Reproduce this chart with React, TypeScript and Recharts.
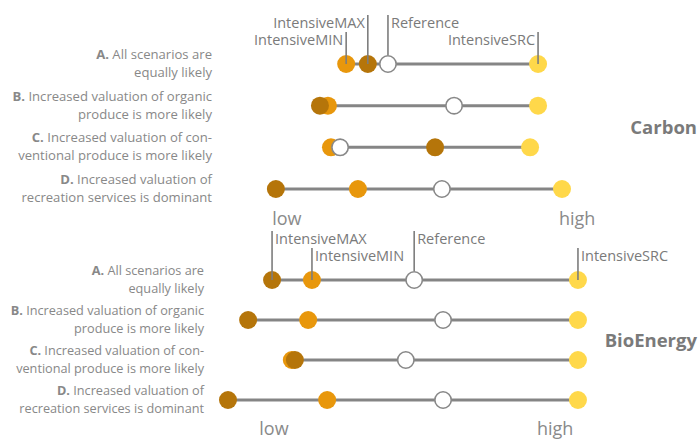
import React from 'react';
import { ScatterChart, Scatter, XAxis, YAxis, ReferenceLine } from 'recharts';

// Row categories (scenarios)
const scenarioBold = ['A.', 'B.', 'C.', 'D.'];
const scenarioLine1 = [' All scenarios are', ' Increased valuation of organic', ' Increased valuation of con-', ' Increased valuation of'];
const scenarioLine2 = ['equally likely', 'produce is more likely', 'ventional produce is more likely', 'recreation services is dominant'];
const rows = [0, 1, 2, 3];

// Carbon (low = 0 ... high = 100, relative position)
const carbonMin = [33.2, 28.4, 29.2, 36.3];
const carbonMax = [38.9, 26.3, 56.6, 14.7];
const carbonRef = [44.2, 61.6, 31.6, 58.4];
const carbonSrc = [83.7, 83.7, 81.6, 90.0];

// BioEnergy
const bioMin = [24.2, 23.2, 18.9, 28.2];
const bioMax = [13.7, 7.4, 19.7, 2.1];
const bioRef = [51.1, 58.7, 48.9, 58.7];
const bioSrc = [94.2, 94.2, 94.2, 94.2];

// Axis end labels
const carbonTicks = [17.6, 94.0];
const bioTicks = [14.2, 88.2];
const tickNames = ['low', 'high'];

const seriesNames = ['IntensiveMAX', 'IntensiveMIN', 'Reference', 'IntensiveSRC'];

const COLORS = {
  min: '#E8970C',
  max: '#B5750A',
  src: '#FFD84A',
  ref: '#888888',
  line: '#858585',
  text: '#888888',
};
const FONT = '"Open Sans", "Noto Sans", sans-serif';
const R = 9;

const toPts = (vals: number[]) => vals.map((x, i) => ({ x, y: rows[i] }));

const dot = (fill: string) => (p: any) => <circle cx={p.cx} cy={p.cy} r={R} fill={fill} />;
const refDot = (p: any) => (
  <circle cx={p.cx} cy={p.cy} r={R - 0.8} fill="#ffffff" stroke={COLORS.ref} strokeWidth={1.6} />
);

type AnnStyle = { level: number; side: 'left' | 'right' };

const annotationShape = (styles: Record<string, AnnStyle>) => (p: any) => {
  const name = p.payload.name as string;
  const st = styles[name];
  const top = p.cy - (st.level === 1 ? 49 : 32);
  const bottom = name === 'Reference' ? p.cy - R : p.cy;
  const tx = st.side === 'left' ? p.cx - 3 : p.cx + 3;
  return (
    <g>
      <line x1={p.cx} x2={p.cx} y1={top} y2={bottom} stroke="#7d7d7d" strokeWidth={1.6} />
      <text
        x={tx}
        y={top + 7}
        textAnchor={st.side === 'left' ? 'end' : 'start'}
        dominantBaseline="central"
        fontSize={14.5}
        fontFamily={FONT}
        fill="#7a7a7a"
      >
        {name}
      </text>
    </g>
  );
};

const rowTick = (dx: number, fs: number) => (p: any) => {
  const i = p.payload.value as number;
  return (
    <text x={p.x + dx} y={p.y} textAnchor="end" fontSize={fs} fontFamily={FONT} fill={COLORS.text}>
      <tspan x={p.x + dx} dy={-5}>
        <tspan fontWeight="bold">{scenarioBold[i]}</tspan>
        {scenarioLine1[i]}
      </tspan>
      <tspan x={p.x + dx} dy={18}>{scenarioLine2[i]}</tspan>
    </text>
  );
};

const endTick = (ticks: number[], dy: number) => (p: any) => {
  const idx = ticks.indexOf(p.payload.value);
  return (
    <text x={p.x} y={p.y + dy} textAnchor="middle" dominantBaseline="central" fontSize={18} fontFamily={FONT} fill="#8a8a8a">
      {tickNames[idx]}
    </text>
  );
};

type PanelProps = {
  height: number;
  top: number;
  bottom: number;
  xAxisHeight: number;
  min: number[];
  max: number[];
  ref_: number[];
  src: number[];
  ticks: number[];
  labelDx: number;
  labelFs: number;
  tickDy: number;
  annStyles: Record<string, AnnStyle>;
};

function Panel(props: PanelProps) {
  const { height, top, bottom, xAxisHeight, min, max, ref_, src, ticks, labelDx, labelFs, tickDy, annStyles } = props;
  const annData = [
    { x: max[0], y: rows[0], name: seriesNames[0] },
    { x: min[0], y: rows[0], name: seriesNames[1] },
    { x: ref_[0], y: rows[0], name: seriesNames[2] },
    { x: src[0], y: rows[0], name: seriesNames[3] },
  ];
  return (
    <ScatterChart width={698} height={height} margin={{ top, right: 98, bottom, left: 0 }}>
      <XAxis
        type="number"
        dataKey="x"
        domain={[0, 100]}
        ticks={ticks}
        height={xAxisHeight}
        axisLine={false}
        tickLine={false}
        interval={0}
        tick={endTick(ticks, tickDy)}
      />
      <YAxis
        type="number"
        dataKey="y"
        domain={[0, 3]}
        ticks={rows}
        reversed
        width={220}
        axisLine={false}
        tickLine={false}
        interval={0}
        tick={rowTick(labelDx, labelFs)}
      />
      {rows.map((r) => {
        const vals = [min[r], max[r], ref_[r], src[r]];
        return (
          <ReferenceLine
            key={r}
            segment={[
              { x: Math.min(...vals), y: r },
              { x: Math.max(...vals), y: r },
            ]}
            stroke={COLORS.line}
            strokeWidth={3}
            ifOverflow="visible"
          />
        );
      })}
      <Scatter data={toPts(min)} shape={dot(COLORS.min)} isAnimationActive={false} />
      <Scatter data={toPts(max)} shape={dot(COLORS.max)} isAnimationActive={false} />
      <Scatter data={toPts(ref_)} shape={refDot} isAnimationActive={false} />
      <Scatter data={toPts(src)} shape={dot(COLORS.src)} isAnimationActive={false} />
      <Scatter data={annData} shape={annotationShape(annStyles)} isAnimationActive={false} />
    </ScatterChart>
  );
}

const carbonAnn: Record<string, AnnStyle> = {
  IntensiveMAX: { level: 1, side: 'left' },
  IntensiveMIN: { level: 2, side: 'left' },
  Reference: { level: 1, side: 'right' },
  IntensiveSRC: { level: 2, side: 'left' },
};
const bioAnn: Record<string, AnnStyle> = {
  IntensiveMAX: { level: 1, side: 'right' },
  IntensiveMIN: { level: 2, side: 'right' },
  Reference: { level: 1, side: 'right' },
  IntensiveSRC: { level: 2, side: 'right' },
};

export default function App() {
  return (
    <div style={{ position: 'absolute', left: 0, top: 0, width: 698, height: 439, background: '#fff', fontFamily: FONT }}>
      <div style={{ position: 'absolute', left: 0, top: 0 }}>
        <Panel
          height={234}
          top={64}
          bottom={14}
          xAxisHeight={31}
          min={carbonMin}
          max={carbonMax}
          ref_={carbonRef}
          src={carbonSrc}
          ticks={carbonTicks}
          labelDx={0}
          labelFs={13.1}
          tickDy={21}
          annStyles={carbonAnn}
        />
      </div>
      <div style={{ position: 'absolute', left: 0, top: 220 }}>
        <Panel
          height={219}
          top={60}
          bottom={0}
          xAxisHeight={39}
          min={bioMin}
          max={bioMax}
          ref_={bioRef}
          src={bioSrc}
          ticks={bioTicks}
          labelDx={-8}
          labelFs={12.7}
          tickDy={20}
          annStyles={bioAnn}
        />
      </div>
      <div style={{ position: 'absolute', right: 1, top: 114, fontSize: 18.5, fontWeight: 'bold', color: '#7a7a7a' }}>Carbon</div>
      <div style={{ position: 'absolute', right: 1, top: 327, fontSize: 18.5, fontWeight: 'bold', color: '#7a7a7a' }}>BioEnergy</div>
    </div>
  );
}
